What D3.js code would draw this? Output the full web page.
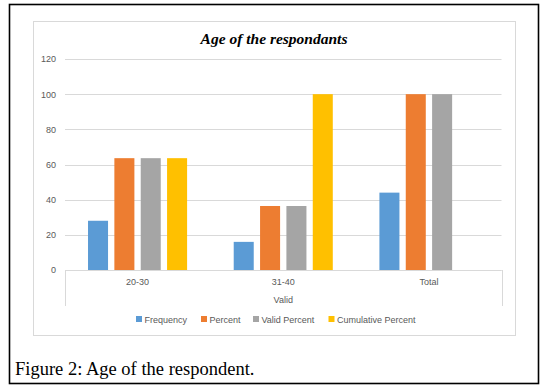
<!DOCTYPE html>
<html><head><meta charset="utf-8">
<script src="https://cdn.jsdelivr.net/npm/d3@7"></script>
<style>body{margin:0;background:#fff}svg{display:block}</style>
</head><body>
<script>
const categories = ["20-30", "31-40", "Total"];
const seriesNames = ["Frequency", "Percent", "Valid Percent", "Cumulative Percent"];
const frequency = [28, 16, 44];
const percent = [63.6, 36.4, 100];
const validPercent = [63.6, 36.4, 100];
const cumulativePercent = [63.6, 100, null];
const yTicks = [0, 20, 40, 60, 80, 100, 120];
const colors = ["#5B9BD5", "#ED7D31", "#A5A5A5", "#FFC000"];
const seriesValues = [frequency, percent, validPercent, cumulativePercent];

const W = 545, H = 391;
const svg = d3.select("body").append("svg").attr("width", W).attr("height", H);

// outer figure border
svg.append("rect").attr("x", 9.5).attr("y", 4.5).attr("width", 529).attr("height", 379)
  .attr("fill", "none").attr("stroke", "#000").attr("stroke-width", 1.6);
// chart area border
svg.append("rect").attr("x", 33.5).attr("y", 21.5).attr("width", 482).attr("height", 314)
  .attr("fill", "#fff").attr("stroke", "#d9d9d9").attr("stroke-width", 1);

svg.append("text").attr("x", 274).attr("y", 43.5).attr("text-anchor", "middle")
  .attr("font-family", "Liberation Serif").attr("font-weight", "bold").attr("font-style", "italic")
  .attr("font-size", 15.5).attr("fill", "#000").text("Age of the respondants");

const pLeft = 65, pRight = 501.5, pTop = 59, pBottom = 270;
const y = d3.scaleLinear().domain([0, 120]).range([pBottom, pTop]);
const x0 = d3.scaleBand().domain(categories).range([pLeft, pRight]).paddingInner(0.32).paddingOuter(0.158);
const x1 = d3.scaleBand().domain(seriesNames).range([0, x0.bandwidth()]).paddingInner(0.24);

const font = "Liberation Sans";
const fs = 9;
// gridlines
svg.append("g").selectAll("line").data(yTicks).join("line")
  .attr("x1", pLeft).attr("x2", pRight)
  .attr("y1", d => Math.round(y(d)) + 0.5).attr("y2", d => Math.round(y(d)) + 0.5)
  .attr("stroke", "#d9d9d9").attr("stroke-width", 1);

const yAxis = svg.append("g").attr("transform", `translate(${pLeft},0)`)
  .call(d3.axisLeft(y).tickValues(yTicks).tickSize(0).tickPadding(9));
yAxis.select(".domain").remove();
yAxis.selectAll("text").attr("font-family", font).attr("font-size", fs).attr("fill", "#595959");

// bars
const groups = svg.append("g").selectAll("g").data(categories).join("g")
  .attr("transform", d => `translate(${x0(d)},0)`);
groups.selectAll("rect").data((c, ci) => seriesNames.map((s, si) => ({s, si, v: seriesValues[si][ci]})).filter(d => d.v != null))
  .join("rect")
  .attr("x", d => x1(d.s)).attr("width", x1.bandwidth())
  .attr("y", d => y(d.v)).attr("height", d => y(0) - y(d.v))
  .attr("fill", d => colors[d.si]);

// x axis with multi-level frame
svg.append("line").attr("x1", pLeft).attr("x2", pRight).attr("y1", pBottom + 0.5).attr("y2", pBottom + 0.5).attr("stroke", "#d9d9d9");
[pLeft, pRight].forEach(px => svg.append("line").attr("x1", Math.round(px) + 0.5).attr("x2", Math.round(px) + 0.5)
  .attr("y1", pBottom).attr("y2", 306).attr("stroke", "#d9d9d9"));
svg.append("g").selectAll("text").data(categories).join("text")
  .attr("x", d => x0(d) + x0.bandwidth() / 2).attr("y", 285).attr("text-anchor", "middle")
  .attr("font-family", font).attr("font-size", fs).attr("fill", "#595959").text(d => d);
svg.append("text").attr("x", (pLeft + pRight) / 2).attr("y", 303).attr("text-anchor", "middle")
  .attr("font-family", font).attr("font-size", fs).attr("fill", "#595959").text("Valid");

// legend
const legendX = [136, 201, 253, 328.5];
const lg = svg.append("g").selectAll("g").data(seriesNames).join("g")
  .attr("transform", (d, i) => `translate(${legendX[i]},316)`);
lg.append("rect").attr("width", 6).attr("height", 6).attr("fill", (d, i) => colors[i]);
lg.append("text").attr("x", 8.5).attr("y", 6.5).attr("font-family", font).attr("font-size", fs)
  .attr("fill", "#595959").text(d => d);

// caption
svg.append("text").attr("x", 15).attr("y", 374.5).attr("font-family", "Liberation Serif")
  .attr("font-size", 18.5).attr("fill", "#000").text("Figure 2: Age of the respondent.");
</script>
</body></html>
